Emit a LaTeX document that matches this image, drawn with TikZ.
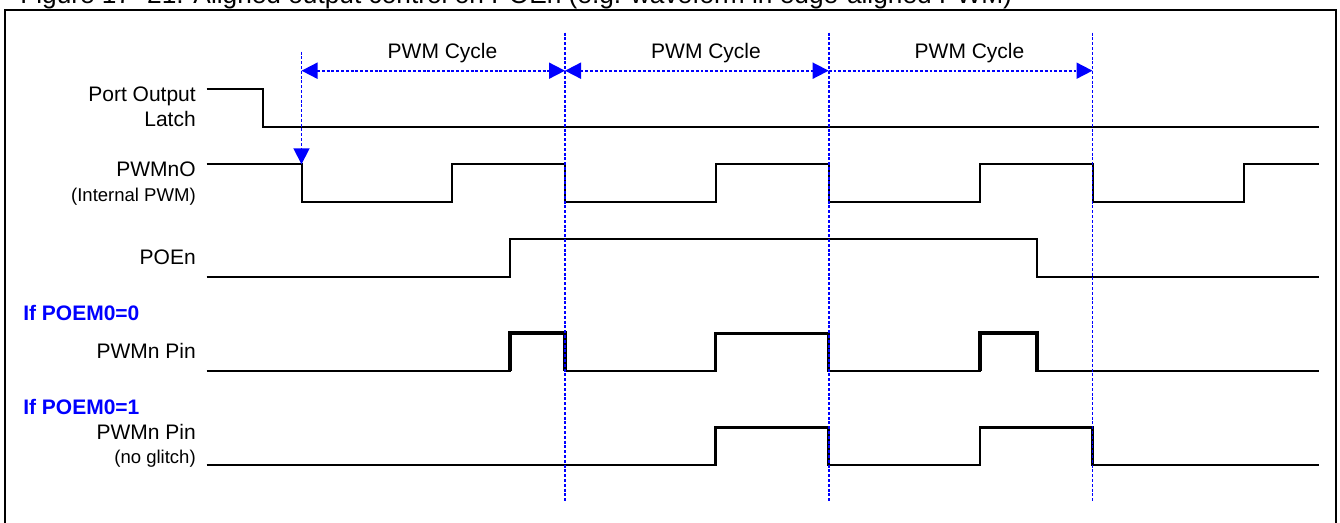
\documentclass[tikz,border=0pt]{standalone}
\usepackage{fontspec}
\setmainfont{Liberation Sans}
\usetikzlibrary{arrows.meta}
\begin{document}
\begin{tikzpicture}[x=0.75pt,y=-0.75pt,
  sig/.style={line width=1.5pt},
  pin/.style={line width=2.1pt},
  glitch/.style={line width=3pt},
  guide/.style={blue, line width=1.35pt, dash pattern=on 2.2pt off 1.4pt},
  tipend/.style={-{Triangle[length=12pt,width=12pt]}},
  tipboth/.style={{Triangle[length=12pt,width=12pt]}-{Triangle[length=12pt,width=12pt]}},
  lbl/.style={anchor=base east, inner sep=0pt, font=\fontsize{15.75pt}{18pt}\selectfont},
  sublbl/.style={anchor=base east, inner sep=0pt, font=\fontsize{13.9pt}{16pt}\selectfont},
  cond/.style={anchor=base west, inner sep=0pt, text=blue, font=\bfseries\fontsize{15.75pt}{18pt}\selectfont},
  cyc/.style={anchor=base, inner sep=0pt, font=\fontsize{15.75pt}{18pt}\selectfont},
  ttl/.style={anchor=base west, inner sep=0pt, font=\fontsize{19.7pt}{22pt}\selectfont}
]
\clip (0,0) rectangle (1340,523);
\useasboundingbox (0,0) rectangle (1340,523);

% title (cut off at top, as in the reference) and frame
\node[ttl] (title) at (20,4) {Figure 17- 21. Aligned output control on POEn (e.g. waveform in edge-aligned PWM)};
\draw[line width=1.5pt] (5,560) -- (5,10.5) -- (1336,10.5) -- (1336,560);

% guide coordinates
\coordinate (g1t) at (301.5,51.7);
\coordinate (g1b) at (301.5,164.3);
\coordinate (g2t) at (565,32.7);   \coordinate (g2b) at (565,502);
\coordinate (g3t) at (828.7,32.7); \coordinate (g3b) at (828.7,502);
\coordinate (g4t) at (1092.5,32.7);\coordinate (g4b) at (1092.5,502);
\coordinate (a1) at (301.5,70.7);
\coordinate (a2) at (565,70.7);
\coordinate (a3) at (828.7,70.7);
\coordinate (a4) at (1092.5,70.7);

% labels
\node[lbl] (lat1) at (196,101.7) {Port Output};
\node[lbl] (lat2) at (196,126.7) {Latch};
\node[lbl] (pwmo) at (196,176.7) {PWMnO};
\node[sublbl] (pwmoi) at (196,201.5) {(Internal PWM)};
\node[lbl] (poen) at (196,265) {POEn};
\node[cond] (c0) at (23,320.5) {If POEM0=0};
\node[lbl] (pin0) at (196,359) {PWMn Pin};
\node[cond] (c1) at (23,415) {If POEM0=1};
\node[lbl] (pin1) at (196,440) {PWMn Pin};
\node[sublbl] (pin1g) at (196,463.5) {(no glitch)};

\node[cyc] (cy1) at (442.5,58.3) {PWM Cycle};
\node[cyc] (cy2) at (706,58.3) {PWM Cycle};
\node[cyc] (cy3) at (969.5,58.3) {PWM Cycle};

% waveforms
\draw[sig] (206.7,89) -- (263,89) -- (263,126.7) -- (1319,126.7);
\draw[sig] (206.7,164.3) -- (301.5,164.3) -- (301.5,201.7) -- (452.3,201.7) -- (452.3,164.3)
  -- (565,164.3) -- (565,201.7) -- (715.5,201.7) -- (715.5,164.3)
  -- (828.7,164.3) -- (828.7,201.7) -- (980,201.7) -- (980,164.3)
  -- (1092.5,164.3) -- (1092.5,201.7) -- (1243.5,201.7) -- (1243.5,164.3) -- (1319,164.3);
\draw[sig] (206.7,276.7) -- (509.5,276.7) -- (509.5,239.3) -- (1036.5,239.3) -- (1036.5,276.7) -- (1319,276.7);
\draw[pin] (206.7,371) -- (509.5,371) -- (509.5,333.3) -- (565,333.3) -- (565,371)
  -- (715.5,371) -- (715.5,333.3) -- (828.7,333.3) -- (828.7,371)
  -- (980,371) -- (980,333.3) -- (1036.5,333.3) -- (1036.5,371) -- (1319,371);
\draw[glitch] (509.5,371) -- (509.5,333.3) -- (565,333.3) -- (565,371);
\draw[glitch] (980,371) -- (980,333.3) -- (1036.5,333.3) -- (1036.5,371);
\draw[pin] (206.7,465) -- (715.5,465) -- (715.5,427.3) -- (828.7,427.3) -- (828.7,465)
  -- (980,465) -- (980,427.3) -- (1092.5,427.3) -- (1092.5,465) -- (1319,465);

% guides
\draw[guide,tipend] (g1t) -- (g1b);
\draw[guide] (g2t) -- (g2b);
\draw[guide] (g3t) -- (g3b);
\draw[guide] (g4t) -- (g4b);
\draw[guide,tipboth] (a1) -- (a2);
\draw[guide,tipboth] (a2) -- (a3);
\draw[guide,tipend] (a3) -- (a4);
\end{tikzpicture}
\end{document}
